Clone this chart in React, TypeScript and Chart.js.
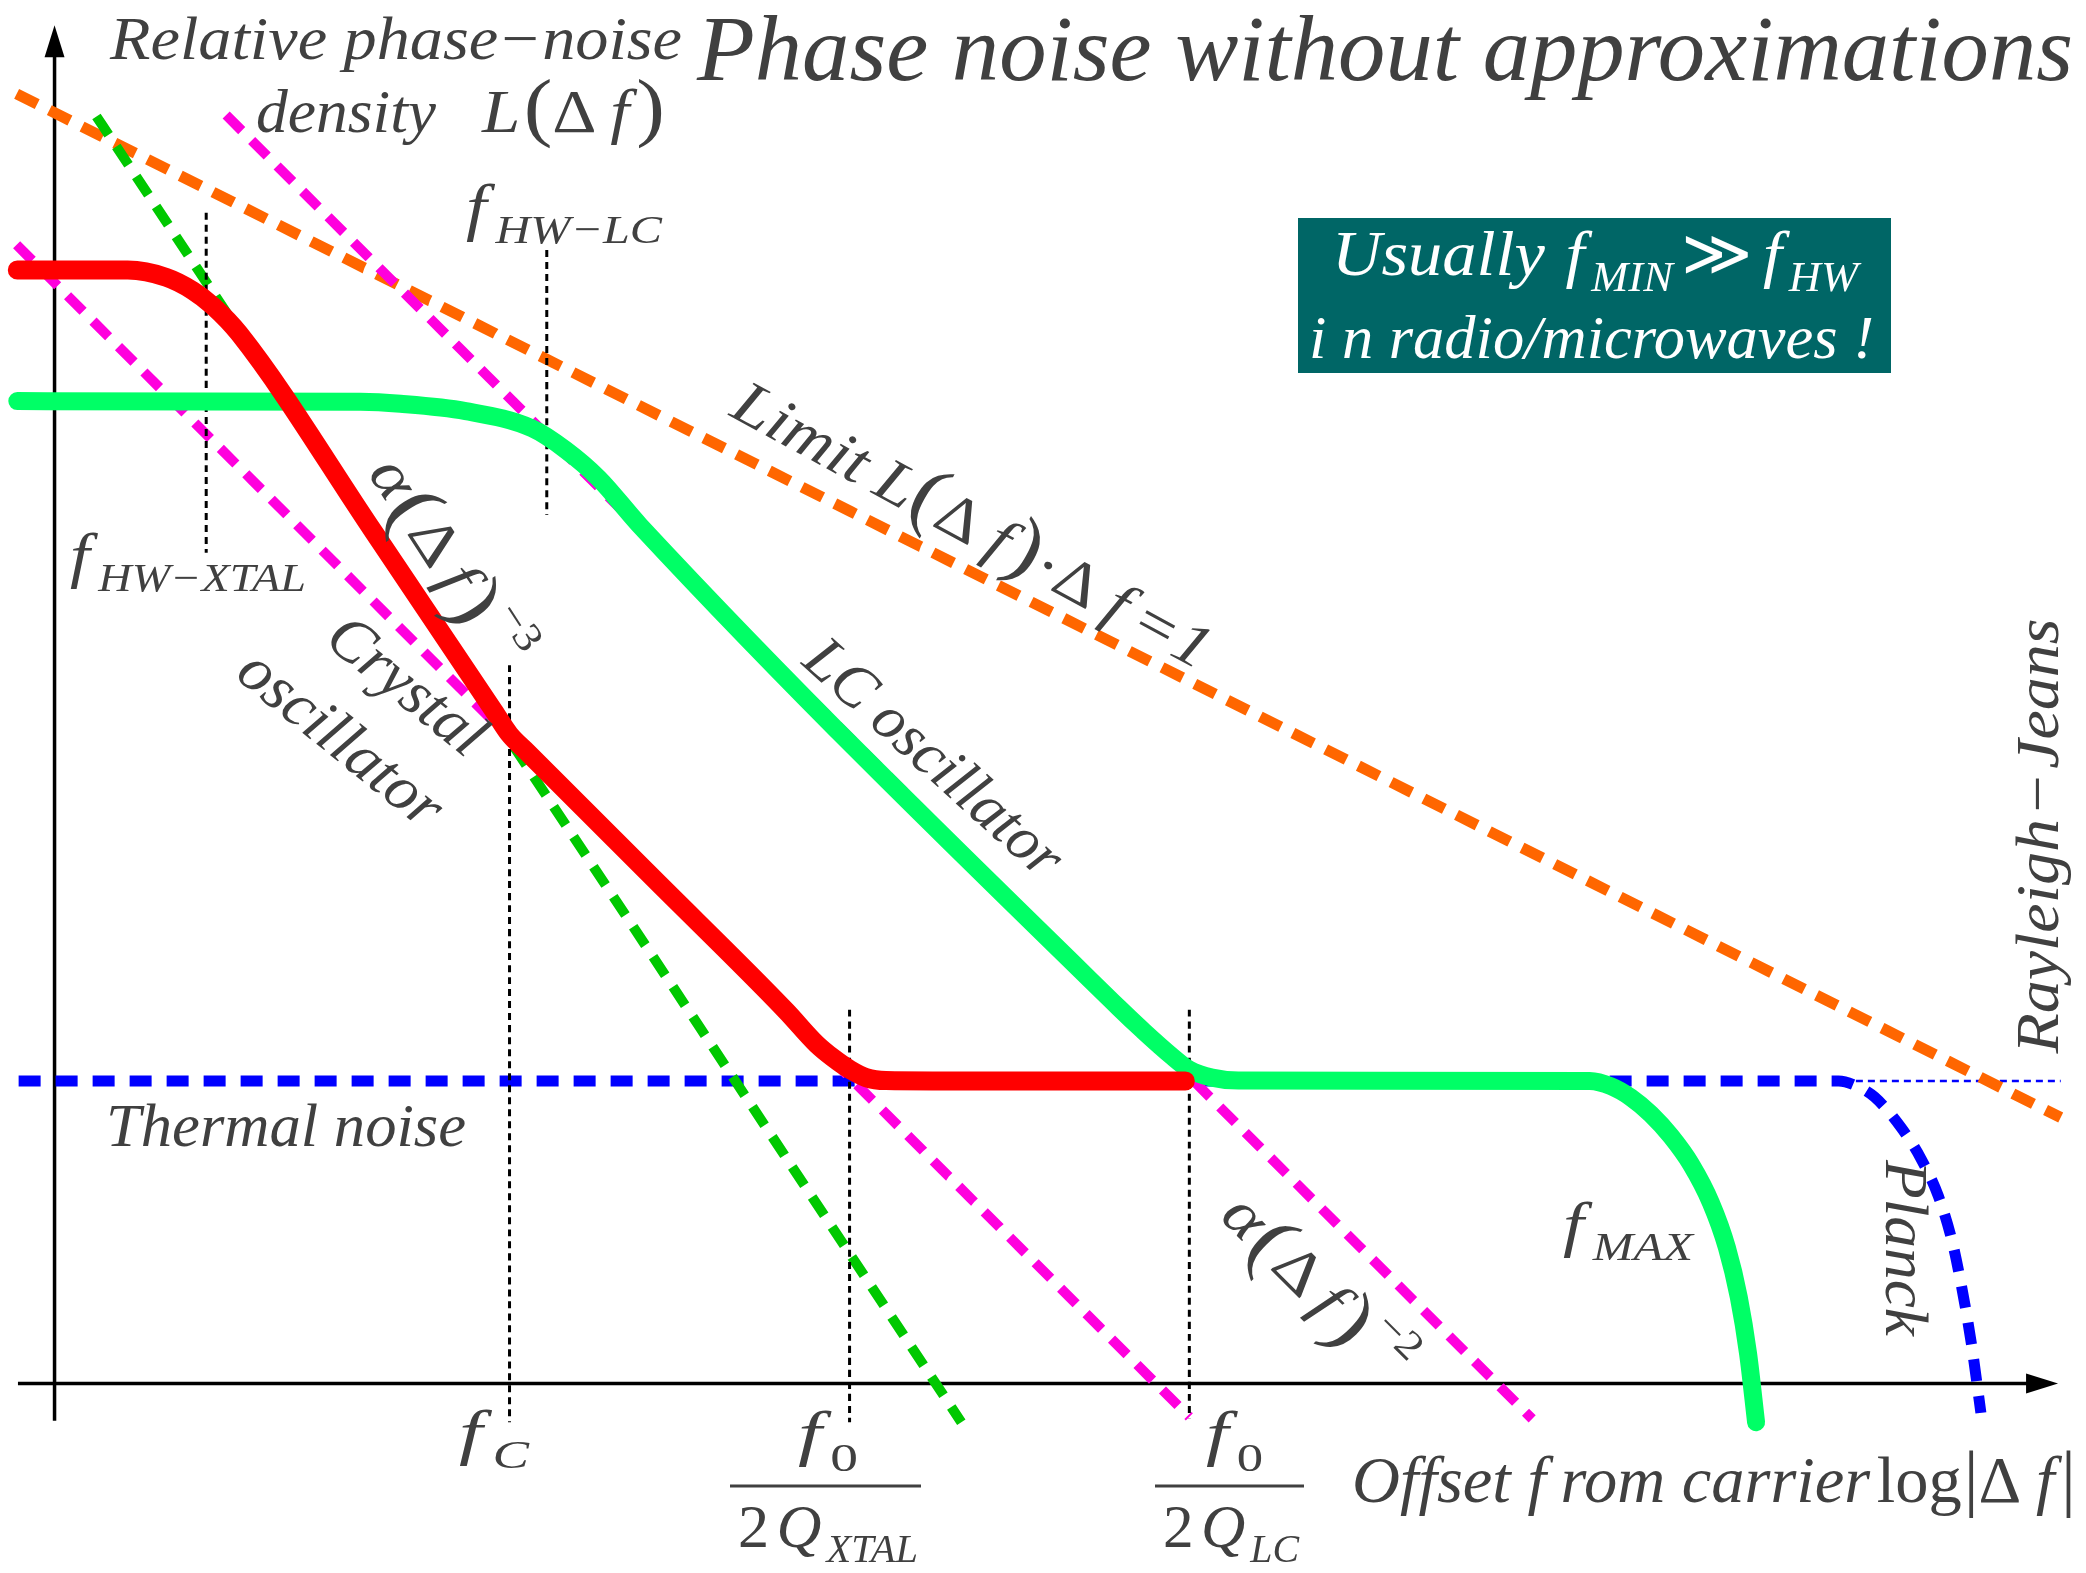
import React, { useEffect, useRef } from 'react';
import { Chart, registerables } from 'chart.js';

Chart.register(...registerables);

const W = 2086;
const H = 1573;

// Both axes are logarithmic in nature: x = log|Δf| (decades), y = log L(Δf) (decades).
const X_MIN = -0.41;
const X_MAX = 15.27;
const Y_MIN = -2.847;
const Y_MAX = 20.8;

// Axis extents (data units)
const xAxisFrom = -0.275;
const xAxisTo = 15.06;
const yAxisFrom = -0.56;
const yAxisTo = 20.42;

// Crystal oscillator (red)
const crystalX = [-0.28, 0.55, 0.84, 1.04, 1.19, 1.39, 2.4, 3.3, 3.42, 3.55, 4.5, 5.5, 5.73, 5.85, 5.98, 6.1, 6.25, 6.6, 8.5];
const crystalY = [16.74, 16.74, 16.63, 16.43, 16.2, 15.78, 12.8, 10.12, 9.76, 9.5, 7.6, 5.6, 5.1, 4.9, 4.72, 4.6, 4.555, 4.55, 4.55];

// LC oscillator (light green)
const lcX = [-0.28, 2.3, 2.6, 3.09, 3.59, 3.84, 4.09, 4.4, 8.0, 8.18, 8.4, 8.53, 8.7, 8.9, 11.54, 11.7, 11.85, 12.0, 12.15, 12.3, 12.45, 12.57, 12.66, 12.73, 12.79];
const lcY = [14.77, 14.76, 14.73, 14.62, 14.36, 14.04, 13.61, 12.9, 5.65, 5.31, 4.92, 4.72, 4.6, 4.555, 4.55, 4.47, 4.3, 4.05, 3.72, 3.3, 2.72, 2.05, 1.3, 0.45, -0.58];

// Thermal noise floor with the Planck roll-off (blue)
const thermalX = [-0.27, 13.3, 13.41, 13.55, 13.68, 13.88, 14.03, 14.16, 14.26, 14.33, 14.41, 14.48];
const thermalY = [4.55, 4.55, 4.55, 4.47, 4.31, 3.85, 3.38, 2.82, 2.17, 1.51, 0.58, -0.44];

// Rayleigh-Jeans continuation of the floor (thin blue)
const rayleighX = [13.45, 15.08];
const rayleighY = [4.55, 4.55];

// Limit L(Δf)·Δf = 1 (orange, slope -1)
const limitX = [-0.285, 15.08];
const limitY = [19.39, 4.0];

// α(Δf)^-3 asymptote (dashed green)
const slope3X = [0.315, 6.816];
const slope3Y = [19.05, -0.58];

// α(Δf)^-2 asymptotes (magenta)
const slope2aX = [-0.285, 8.53];
const slope2aY = [17.12, -0.5];
const slope2bX = [1.29, 11.107];
const slope2bY = [19.07, -0.53];

// Corner frequencies: f_HW-XTAL, f_HW-LC, f_C, f0/2Q_XTAL, f0/2Q_LC
const cornerX = [1.14, 3.7, 3.42, 5.976, 8.53];
const cornerTop = [17.6, 17.04, 10.8, 5.62, 5.62];
const cornerBottom = [12.49, 13.06, -0.58, -0.58, -0.52];

const INK = '#404040';
const FAMILY = '"Liberation Serif", "Times New Roman", Times, serif';

const zip = (xs: number[], ys: number[]) => xs.map((x, i) => ({ x, y: ys[i] }));

type Seg = { t: string; k?: number; dy?: number; dx?: number; up?: boolean };
type RichOpts = { w?: number; rot?: number; align?: 'left' | 'center'; base?: CanvasTextBaseline; color?: string };

function rich(ctx: CanvasRenderingContext2D, segs: Seg[], x: number, y: number, size: number, o: RichOpts = {}) {
  ctx.save();
  ctx.fillStyle = o.color ?? INK;
  ctx.textBaseline = o.base ?? 'alphabetic';
  ctx.textAlign = 'left';
  const fontOf = (s: Seg) => `${s.up ? '' : 'italic '}${(size * (s.k ?? 1)).toFixed(1)}px ${FAMILY}`;
  const widths = segs.map((s) => {
    ctx.font = fontOf(s);
    return ctx.measureText(s.t).width;
  });
  const total = segs.reduce((a, s, i) => a + widths[i] + (s.dx ?? 0) * size, 0);
  const sx = o.w ? o.w / total : 1;
  ctx.translate(x, y);
  ctx.rotate(((o.rot ?? 0) * Math.PI) / 180);
  ctx.scale(sx, 1);
  let cx = o.align === 'center' ? -total / 2 : 0;
  segs.forEach((s, i) => {
    cx += (s.dx ?? 0) * size;
    ctx.font = fontOf(s);
    ctx.fillText(s.t, cx, (s.dy ?? 0) * size);
    cx += widths[i];
  });
  ctx.restore();
}

const solid = (label: string, xs: number[], ys: number[], color: string, width: number, order: number) => ({
  label,
  data: zip(xs, ys),
  showLine: true,
  borderColor: color,
  borderWidth: width,
  borderCapStyle: 'round' as const,
  borderJoinStyle: 'round' as const,
  cubicInterpolationMode: 'monotone' as const,
  tension: 0.4,
  pointRadius: 0,
  fill: false,
  clip: false as const,
  order,
});

const dashed = (label: string, xs: number[], ys: number[], color: string, width: number, dash: number[], order: number) => ({
  label,
  data: zip(xs, ys),
  showLine: true,
  borderColor: color,
  borderWidth: width,
  borderDash: dash,
  borderCapStyle: 'butt' as const,
  cubicInterpolationMode: 'monotone' as const,
  tension: 0.4,
  pointRadius: 0,
  fill: false,
  clip: false as const,
  order,
});

const axesPlugin = {
  id: 'phaseAxes',
  beforeDatasetsDraw(chart: any) {
    const { ctx, scales } = chart;
    const xs = scales.x;
    const ys = scales.y;
    const x0 = xs.getPixelForValue(0);
    const y0 = ys.getPixelForValue(0);
    const yTop = ys.getPixelForValue(yAxisTo);
    const yBot = ys.getPixelForValue(yAxisFrom);
    const xL = xs.getPixelForValue(xAxisFrom);
    const xR = xs.getPixelForValue(xAxisTo);
    ctx.save();
    ctx.strokeStyle = '#000';
    ctx.fillStyle = '#000';
    ctx.lineWidth = 3.5;
    ctx.beginPath();
    ctx.moveTo(x0, yBot);
    ctx.lineTo(x0, yTop + 20);
    ctx.moveTo(xL, y0);
    ctx.lineTo(xR - 20, y0);
    ctx.stroke();
    ctx.beginPath();
    ctx.moveTo(x0, yTop);
    ctx.lineTo(x0 - 10, yTop + 32);
    ctx.lineTo(x0 + 10, yTop + 32);
    ctx.closePath();
    ctx.fill();
    ctx.beginPath();
    ctx.moveTo(xR, y0);
    ctx.lineTo(xR - 32, y0 - 10);
    ctx.lineTo(xR - 32, y0 + 10);
    ctx.closePath();
    ctx.fill();
    ctx.restore();
  },
};

const labelsPlugin = {
  id: 'phaseLabels',
  afterDatasetsDraw(chart: any) {
    const ctx: CanvasRenderingContext2D = chart.ctx;
    const { left, top } = chart.chartArea;
    ctx.save();
    ctx.translate(left, top);

    // Title and y-axis caption
    rich(ctx, [{ t: 'Phase noise without approximations' }], 697, 80, 94, { w: 1376 });
    rich(ctx, [{ t: 'Relative phase' }, { t: '\u2212', up: true, dx: 0.05 }, { t: 'noise', dx: 0.05 }], 110, 59, 61, { w: 572 });
    rich(ctx, [{ t: 'density' }], 256, 132, 61, { w: 180 });
    rich(
      ctx,
      [{ t: 'L' }, { t: '(', up: true, k: 1.25, dx: 0.05 }, { t: '\u0394', up: true }, { t: 'f', dx: 0.2 }, { t: ')', up: true, k: 1.25, dx: 0.1 }],
      482, 132, 61, { w: 183 }
    );

    // Corner-frequency labels at the top
    rich(ctx, [{ t: 'f' }, { t: 'HW\u2212LC', k: 0.65, dy: 0.24, dx: 0.12 }], 466, 228, 63, { w: 196 });
    rich(ctx, [{ t: 'f' }, { t: 'HW\u2212XTAL', k: 0.65, dy: 0.24, dx: 0.12 }], 70, 576, 62, { w: 236 });

    // Note box
    ctx.fillStyle = '#006666';
    ctx.fillRect(1298, 218, 593, 155);
    rich(
      ctx,
      [
        { t: 'Usually' },
        { t: 'f', dx: 0.3 },
        { t: 'MIN', k: 0.65, dy: 0.25, dx: 0.1 },
        { t: '\u226B', up: true, dx: 0.12 },
        { t: 'f', dx: 0.15 },
        { t: 'HW', k: 0.65, dy: 0.25, dx: 0.1 },
      ],
      1332, 275, 64, { w: 526, color: '#ffffff' }
    );
    rich(ctx, [{ t: 'i n radio/microwaves !' }], 1309, 358, 62, { w: 565, color: '#ffffff' });

    // Slanted annotations
    rich(
      ctx,
      [
        { t: 'Limit' },
        { t: 'L', dx: 0.22 },
        { t: '(', up: true, k: 1.3 },
        { t: '\u0394', up: true },
        { t: 'f', dx: 0.2 },
        { t: ')', up: true, k: 1.3, dx: 0.05 },
        { t: '\u00B7', up: true },
        { t: '\u0394', up: true },
        { t: 'f', dx: 0.2 },
        { t: '=', up: true, dx: 0.22 },
        { t: '1', dx: 0.05 },
      ],
      728, 415, 62, { w: 535, rot: 28.5 }
    );
    const alphaSegs = (p: string): Seg[] => [
      { t: '\u03B1' },
      { t: '(', up: true, k: 1.3, dx: 0.04 },
      { t: '\u0394', up: true },
      { t: 'f', dx: 0.15 },
      { t: ')', up: true, k: 1.3, dx: 0.08 },
      { t: '\u2212' + p, up: true, k: 0.65, dy: -0.42, dx: 0.05 },
    ];
    rich(ctx, alphaSegs('3'), 381, 464, 62, { w: 237, rot: 57, base: 'middle' });
    rich(ctx, alphaSegs('2'), 1230, 1206, 62, { w: 237, rot: 45, base: 'middle' });
    rich(ctx, [{ t: 'Crystal' }], 405, 688, 63, { w: 185, rot: 39, base: 'middle', align: 'center' });
    rich(ctx, [{ t: 'oscillator' }], 339, 741, 63, { w: 245, rot: 39, base: 'middle', align: 'center' });
    rich(ctx, [{ t: 'LC oscillator' }], 932, 760, 62, { w: 325, rot: 42, base: 'middle', align: 'center' });
    rich(ctx, [{ t: 'Thermal noise' }], 106, 1146, 61, { w: 360 });
    rich(ctx, [{ t: 'f' }, { t: 'MAX', k: 0.65, dy: 0.24, dx: 0.12 }], 1563, 1245, 62, { w: 130 });
    rich(ctx, [{ t: 'Planck' }], 1902, 1248, 62, { w: 176, rot: 90, base: 'middle', align: 'center' });
    rich(
      ctx,
      [{ t: 'Rayleigh' }, { t: '\u2212', up: true, dx: 0.1 }, { t: 'Jeans', dx: 0.1 }],
      2042, 836, 62, { w: 435, rot: -90, base: 'middle', align: 'center' }
    );

    // x-axis captions
    rich(ctx, [{ t: 'f' }, { t: 'C', k: 0.65, dy: 0.24, dx: 0.12 }], 459, 1453, 62, { w: 70 });
    const fraction = (nx: number, bar: [number, number], dx0: number, sub: string, dw: number, nw: number) => {
      rich(ctx, [{ t: 'f' }, { t: '0', up: true, k: 0.65, dy: 0.28, dx: 0.1 }], nx, 1454, 62, { w: nw });
      ctx.save();
      ctx.strokeStyle = INK;
      ctx.lineWidth = 3;
      ctx.beginPath();
      ctx.moveTo(bar[0], 1486);
      ctx.lineTo(bar[1], 1486);
      ctx.stroke();
      ctx.restore();
      rich(ctx, [{ t: '2', up: true }, { t: 'Q', dx: 0.12 }, { t: sub, k: 0.65, dy: 0.24, dx: 0.08 }], dx0, 1547, 62, { w: dw });
    };
    fraction(798, [730, 921], 738, 'XTAL', 180, 60);
    fraction(1206, [1155, 1304], 1163, 'LC', 136, 57);
    rich(
      ctx,
      [
        { t: 'Offset' },
        { t: 'f', dx: 0.25 },
        { t: 'rom carrier', dx: 0.22 },
        { t: 'log', up: true, dx: 0.1 },
        { t: '|', up: true, k: 1.12, dx: 0.03 },
        { t: '\u0394', up: true },
        { t: 'f', dx: 0.22 },
        { t: '|', up: true, k: 1.12, dx: 0.1 },
      ],
      1352, 1502, 66, { w: 724 }
    );
    ctx.restore();
  },
};

export default function App() {
  const ref = useRef<HTMLCanvasElement | null>(null);

  useEffect(() => {
    document.body.style.margin = '0';
    document.body.style.overflow = 'hidden';
    const canvas = ref.current;
    if (!canvas) return;

    const datasets: any[] = [
      solid('Crystal oscillator', crystalX, crystalY, '#ff0000', 19, 1),
      solid('LC oscillator', lcX, lcY, '#00ff66', 18, 2),
      ...cornerX.map((x, i) =>
        dashed('corner ' + i, [x, x], [cornerTop[i], cornerBottom[i]], '#000000', 3, [7, 5], 3)
      ),
      dashed('α(Δf)^-3', slope3X, slope3Y, '#00c800', 10, [22, 14], 4),
      dashed('α(Δf)^-2 crystal', slope2aX, slope2aY, '#ff00dd', 10, [22, 14], 5),
      dashed('α(Δf)^-2 LC', slope2bX, slope2bY, '#ff00dd', 10, [22, 14], 5),
      dashed('Limit L(Δf)·Δf=1', limitX, limitY, '#ff6600', 11, [23, 13.6], 6),
      dashed('Thermal noise', thermalX, thermalY, '#0000ff', 11, [22, 15], 7),
      dashed('Rayleigh-Jeans', rayleighX, rayleighY, '#0000ff', 2.5, [7, 5], 8),
    ];

    const chart = new Chart(canvas, {
      type: 'scatter',
      data: { datasets },
      options: {
        animation: false,
        responsive: false,
        maintainAspectRatio: false,
        events: [],
        layout: { padding: 0 },
        plugins: { legend: { display: false }, tooltip: { enabled: false }, title: { display: false } },
        scales: {
          x: { type: 'linear', min: X_MIN, max: X_MAX, display: false },
          y: { type: 'linear', min: Y_MIN, max: Y_MAX, display: false },
        },
      },
      plugins: [axesPlugin, labelsPlugin],
    });
    return () => chart.destroy();
  }, []);

  return (
    <div style={{ width: W, height: H, overflow: 'hidden', background: '#ffffff' }}>
      <canvas ref={ref} width={W} height={H} style={{ display: 'block' }} />
    </div>
  );
}
